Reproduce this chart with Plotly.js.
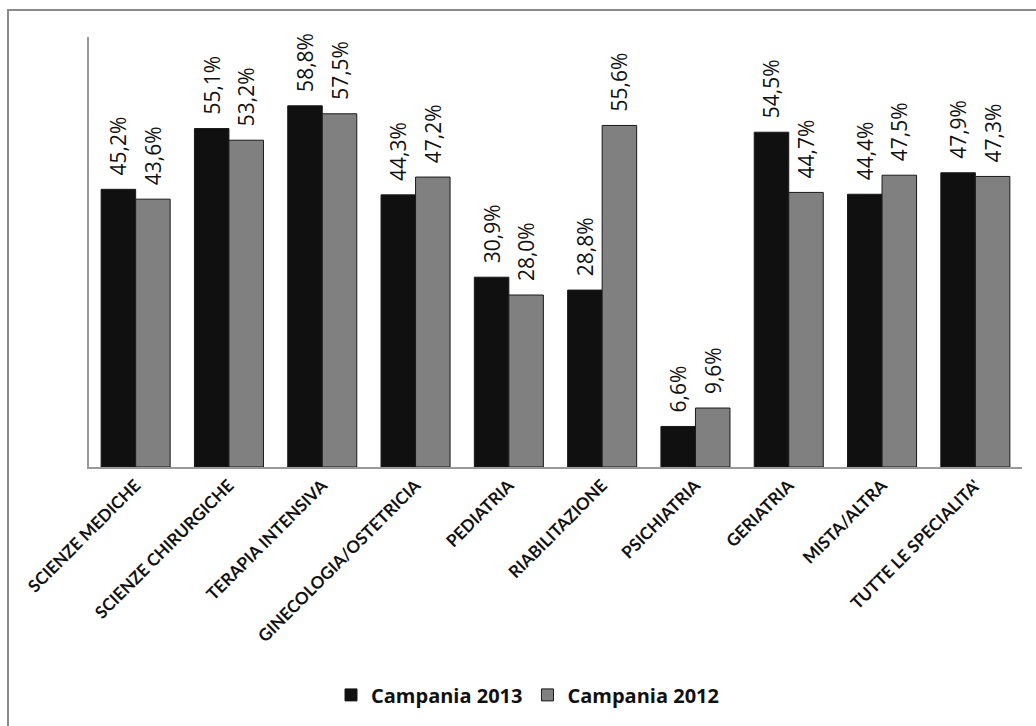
<!DOCTYPE html>
<html>
<head>
<meta charset="utf-8">
<script src="https://cdn.plot.ly/plotly-3.0.1.min.js"></script>
<style>
html,body{margin:0;padding:0;background:#fff;overflow:hidden;}
#frame{position:absolute;left:7px;top:9px;width:1100px;height:800px;border:2px solid #8a8a8a;box-sizing:border-box;pointer-events:none;}
#chart{position:absolute;left:0;top:0;width:1036px;height:726px;}
</style>
</head>
<body>
<div id="chart"></div>
<div id="frame"></div>
<script>
const categories = ["SCIENZE MEDICHE","SCIENZE CHIRURGICHE","TERAPIA INTENSIVA","GINECOLOGIA/OSTETRICIA","PEDIATRIA","RIABILITAZIONE","PSICHIATRIA","GERIATRIA","MISTA/ALTRA","TUTTE LE SPECIALITA'"];
const campania2013 = [45.2,55.1,58.8,44.3,30.9,28.8,6.6,54.5,44.4,47.9];
const campania2012 = [43.6,53.2,57.5,47.2,28.0,55.6,9.6,44.7,47.5,47.3];

const labelFont = {family:"Open Sans, sans-serif", size:21, color:"#111", weight:500};
function trace(name, vals, color){
  return {
    type:"bar", name:name, x:categories, y:vals,
    marker:{color:color, line:{color:"#1a1a1a", width:1}},
    text: vals.map(v => "\u00a0\u00a0" + v.toFixed(1).replace(".", ",") + "%"),
    textposition:"outside", textangle:-90, cliponaxis:false, constraintext:"none",
    textfont:labelFont, hoverinfo:"skip"
  };
}
const data = [trace("Campania 2013", campania2013, "#101010"), trace("Campania 2012", campania2012, "#808080")];
const layout = {
  width:1036, height:726,
  margin:{l:89, r:14, t:37, b:257},
  paper_bgcolor:"#fff", plot_bgcolor:"#fff",
  barmode:"group", bargap:0.26, bargroupgap:0,
  showlegend:true,
  legend:{orientation:"h", x:0.47, xanchor:"center", y:-0.53, yanchor:"middle",
    font:{family:"Open Sans, sans-serif", size:20, color:"#111", weight:"bold"}, itemwidth:30, tracegroupgap:0},
  xaxis:{tickangle:-45, showline:true, linecolor:"#999", linewidth:2, ticks:"", showgrid:false,
    tickfont:{family:"Lato, sans-serif", size:17, color:"#111", weight:"bold"}},
  yaxis:{range:[0,70], showline:true, linecolor:"#999", linewidth:2, showticklabels:false, ticks:"", showgrid:false, zeroline:false}
};
Plotly.newPlot("chart", data, layout, {displayModeBar:false, staticPlot:true});
</script>
</body>
</html>
